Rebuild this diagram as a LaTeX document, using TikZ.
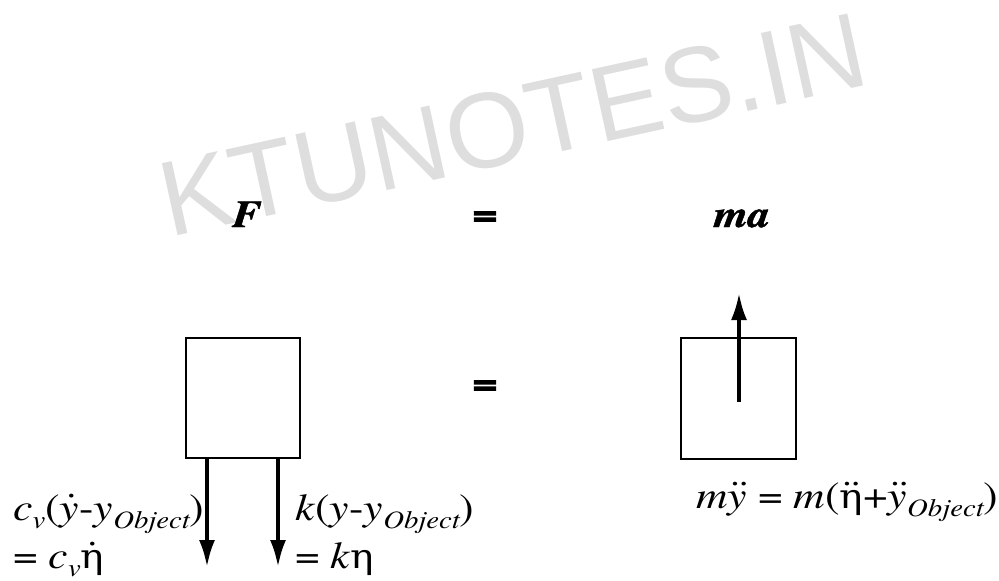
\documentclass[tikz,border=0pt]{standalone}
\usepackage{fontspec}
\usepackage{graphicx}
\setmainfont{texgyretermes}[Extension=.otf, UprightFont=*-regular, BoldFont=*-bold, ItalicFont=*-italic, BoldItalicFont=*-bolditalic, BoldItalicFeatures={FakeBold=1.2}]
\newfontfamily\eqfont{texgyretermes-bold}[Extension=.otf, FakeBold=3]
\newfontfamily\grk{DejaVu Serif}
\newfontfamily\wmfont{Liberation Sans}
\usetikzlibrary{arrows.meta}
\newcommand\wide[1]{\scalebox{1.15}[1]{#1}}
\newcommand\sbs[1]{\raisebox{-0.22em}{\fontsize{25}{25}\selectfont\itshape #1}}
\newcommand\myeta{{\grk\fontsize{34}{36}\selectfont η}}
\newcommand\accover[3]{\leavevmode\setbox0\hbox{#3}\hbox to\wd0{\rlap{\box0}\hfil\kern#1\raisebox{0.04em}{#2}\hfil}}
\begin{document}
\begin{tikzpicture}[x=1pt,y=-1pt,
  lbl/.style={inner sep=0pt,font=\fontsize{38}{40}\selectfont},
  blk/.style={draw,line width=2pt,inner sep=0pt},
  force/.style={line width=3.8pt,-{Latex[length=27pt,width=16pt]}}]
\useasboundingbox (0,0) rectangle (999,581);
% watermark
\node[inner sep=0pt,anchor=base,rotate=12.3,text=black!13,font=\wmfont\fontsize{107}{107}\selectfont] (wm) at (521,161) {KTUNOTES.IN};
% headings
\node[lbl,anchor=base] (F) at (247,227) {\wide{\bfseries\itshape F}};
\node[lbl,anchor=base] (eq1) at (485,226) {\wide{\eqfont =}};
\node[lbl,anchor=base] (ma) at (742,227) {\wide{\bfseries\itshape ma}};
\node[lbl,anchor=base] (eq2) at (485,395) {\wide{\eqfont =}};
% boxes
\node[blk,minimum width=114pt,minimum height=120pt] (lbox) at (243,398) {};
\node[blk,minimum width=115pt,minimum height=121pt] (rbox) at (738.5,398.5) {};
% arrows
\coordinate (cend) at (207,567);
\coordinate (kend) at (278,567);
\coordinate (astart) at (739,402);
\coordinate (aend) at (739,293);
\draw[force] (lbox.south -| cend) -- (cend);
\draw[force] (lbox.south -| kend) -- (kend);
\draw[force] (astart) -- (aend);
% labels
\node[lbl,anchor=base west] (c1) at (13,520) {\wide{\textit{c}\sbs{v}(\accover{0.1em}{˙}{\textit{y}}-\textit{y}\sbs{Object})}};
\node[lbl,anchor=base west] (c2) at (13,568) {\wide{= \textit{c}\sbs{v}\accover{0em}{˙}{\myeta}}};
\node[lbl,anchor=base west] (k1) at (295,520) {\wide{\textit{k}(\textit{y}-\textit{y}\sbs{Object})}};
\node[lbl,anchor=base west] (k2) at (295,568) {\wide{= \textit{k}\myeta}};
\node[lbl,anchor=base west] (m1) at (696,508) {\wide{\textit{m}\accover{0.1em}{¨}{\textit{y}} = \textit{m}(\accover{0em}{¨}{\myeta}+\accover{0.1em}{¨}{\textit{y}}\sbs{Object})}};
\end{tikzpicture}
\end{document}
